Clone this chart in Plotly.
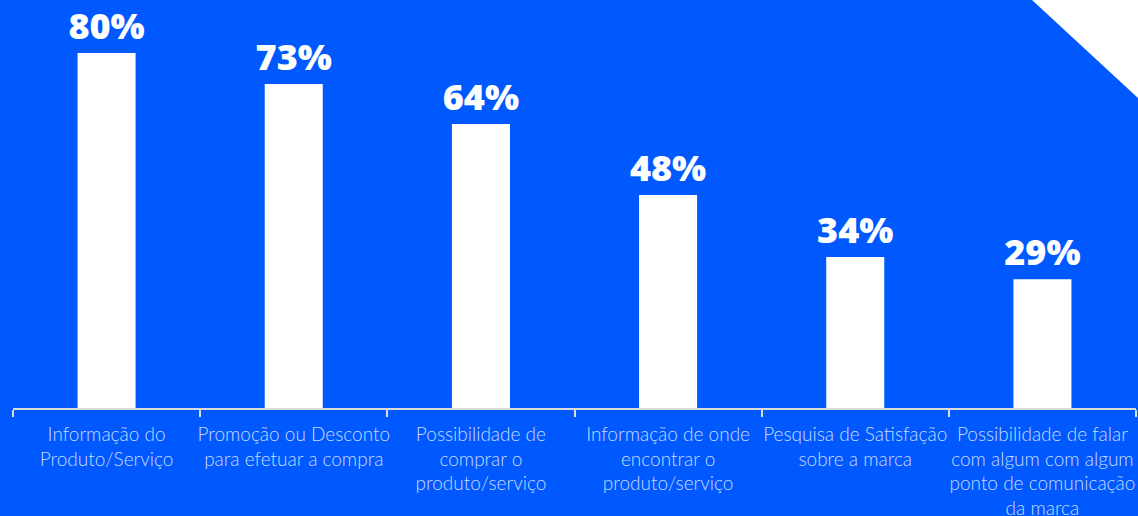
import plotly.graph_objects as go

categories = [
    "Informação do<br>Produto/Serviço",
    "Promoção ou Desconto<br>para efetuar a compra",
    "Possibilidade de<br>comprar o<br>produto/serviço",
    "Informação de onde<br>encontrar o<br>produto/serviço",
    "Pesquisa de Satisfação<br>sobre a marca",
    "Possibilidade de falar<br>com algum com algum<br>ponto de comunicação<br>da marca",
]
values = [80, 73, 64, 48, 34, 29]

BG = "#0059FF"

fig = go.Figure(go.Bar(
    x=categories,
    y=values,
    marker=dict(color="white", line=dict(width=0)),
    text=[f"{v}%" for v in values],
    textposition="outside",
    constraintext="none",
    textfont=dict(family="Open Sans", size=36, color="white", weight=800),
    cliponaxis=False,
))

fig.update_layout(
    width=1138, height=516,
    margin=dict(l=13, r=2, t=0, b=108, autoexpand=False),
    paper_bgcolor=BG, plot_bgcolor=BG,
    bargap=0.69,
    showlegend=False,
    xaxis=dict(
        showline=True, linecolor="#D9D9D9", linewidth=2,
        ticks="outside", tickson="boundaries", ticklen=7, tickwidth=2, tickcolor="#D9D9D9",
        tickangle=0, automargin=False, ticklabelstandoff=8,
        tickfont=dict(family="Lato", size=19, color="rgba(225,233,255,0.9)", weight=300),
        showgrid=False, zeroline=False,
    ),
    yaxis=dict(range=[0, 91.94], visible=False, showgrid=False, zeroline=False),
    shapes=[dict(
        type="path", xref="paper", yref="paper",
        path="M 0.9074 1 L 1.0018 1 L 1.0018 0.760 Z",
        fillcolor="white", line=dict(width=0), layer="above",
    )],
)

fig.write_html(
    "out.html",
    config={"displayModeBar": False},
    post_script="document.body.style.margin='0';document.body.style.background='#0059FF';",
)
